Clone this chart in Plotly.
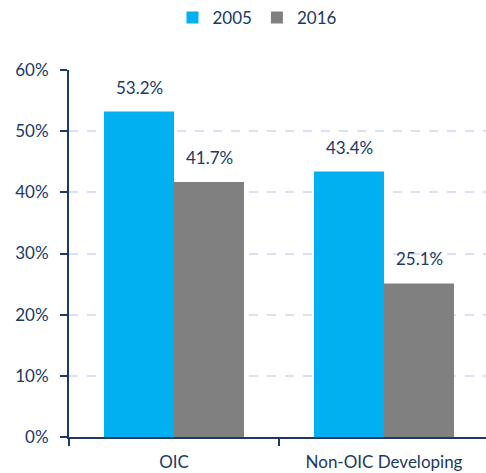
import plotly.graph_objects as go

categories = ["OIC", "Non-OIC Developing"]
series_names = ["2005", "2016"]
values_2005 = [53.2, 43.4]
values_2016 = [41.7, 25.1]
colors = ["#00B0F0", "#808080"]

navy = "#203864"
font_family = "Lato, 'Open Sans', sans-serif"

fig = go.Figure()
for name, vals, col in zip(series_names, [values_2005, values_2016], colors):
    fig.add_trace(go.Bar(x=categories, y=vals, name=name, marker_color=col,
                         marker_line_width=0))

annotations = []
for i, (vals, shift) in enumerate([(values_2005, -35), (values_2016, 35)]):
    for c, v in zip(categories, vals):
        annotations.append(dict(x=c, y=v, xref="x", yref="y", text=f"{v:.1f}%",
                                showarrow=False, xshift=shift, yanchor="bottom", yshift=12,
                                font=dict(size=17, color=navy, family=font_family)))

fig.update_layout(
    width=486, height=473,
    margin=dict(l=69, r=0, t=70, b=36, autoexpand=False),
    plot_bgcolor="white", paper_bgcolor="white",
    barmode="group", bargap=1/3, bargroupgap=0,
    font=dict(family=font_family, size=17, color=navy),
    showlegend=True,
    legend=dict(orientation="h", x=0.452, xanchor="center", y=1.0, yref="container",
                yanchor="top", font=dict(size=17, color=navy), itemwidth=30,
                traceorder="normal"),
    annotations=annotations,
)
fig.update_xaxes(range=[-0.5, 1.4857], showline=True, linecolor=navy, linewidth=2,
                 ticks="outside", tickson="boundaries", ticklen=7, tickcolor=navy,
                 tickwidth=2, showgrid=False, tickfont=dict(size=17, color=navy),
                 ticklabelstandoff=9, automargin=False)
fig.update_yaxes(range=[0, 60], dtick=10, ticksuffix="%", showline=True, linecolor=navy,
                 linewidth=2, ticks="outside", ticklen=7, tickcolor=navy, tickwidth=2,
                 showgrid=True, gridcolor="#D9E1F2", griddash="dash", gridwidth=2,
                 zeroline=False, tickfont=dict(size=17, color=navy),
                 ticklabelstandoff=8, automargin=False)

fig.write_html("out.html", config={"displayModeBar": False},
               post_script="document.body.style.margin='0';")
